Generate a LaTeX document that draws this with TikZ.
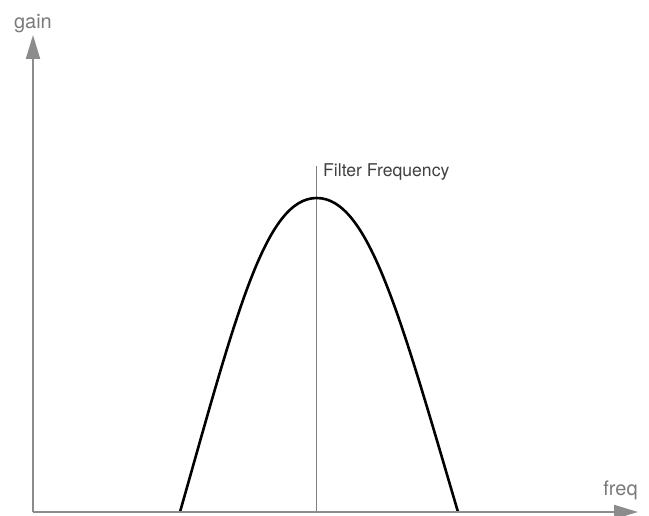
\documentclass[tikz,border=0pt]{standalone}
\usepackage{fontspec}
\setmainfont{TeX Gyre Heros}
\usetikzlibrary{arrows.meta}
\definecolor{axisgray}{HTML}{8C8C8C}
\definecolor{labelgray}{HTML}{7A7A7A}
\definecolor{markgray}{HTML}{7F7F7F}
\definecolor{textdark}{HTML}{404040}
\tikzset{
  axisline/.style={draw=axisgray, line width=2pt, -{Triangle[length=24pt,width=14pt]}},
  axislabel/.style={text=labelgray, font=\fontsize{20}{22}\selectfont, inner sep=0pt, anchor=base},
  curveline/.style={draw=black, line width=2.6pt},
  markline/.style={draw=markgray, line width=1.4pt},
  marklabel/.style={text=textdark, font=\fontsize{17.6}{19}\selectfont, inner sep=0pt, anchor=base west},
}
\begin{document}
\begin{tikzpicture}[x=1pt,y=-1pt]
\useasboundingbox (0,0) rectangle (649,516);
\coordinate (origin) at (33,512);
\coordinate (ytop) at (33,35);
\coordinate (xend) at (638,512);
\coordinate (ftop) at (316.7,166);
\coordinate (fbot) at (316.7,512);
\coordinate (cl) at (180,512);
\coordinate (peak) at (316.7,198);
\coordinate (cr) at (458,512);
\node[axislabel] (gain) at (33,29) {gain};
\node[axislabel] (freq) at (620.5,495) {freq};
\node[marklabel] (flabel) at (323,177) {Filter Frequency};
\draw[markline] (fbot) -- (ftop);
\draw[curveline] (cl) .. controls (236,315) and (265,198) .. (peak)
  .. controls (368.4,198) and (400,315) .. (cr);
\draw[axisline] (origin) -- (ytop);
\draw[axisline] (origin) -- (xend);
\end{tikzpicture}
\end{document}
